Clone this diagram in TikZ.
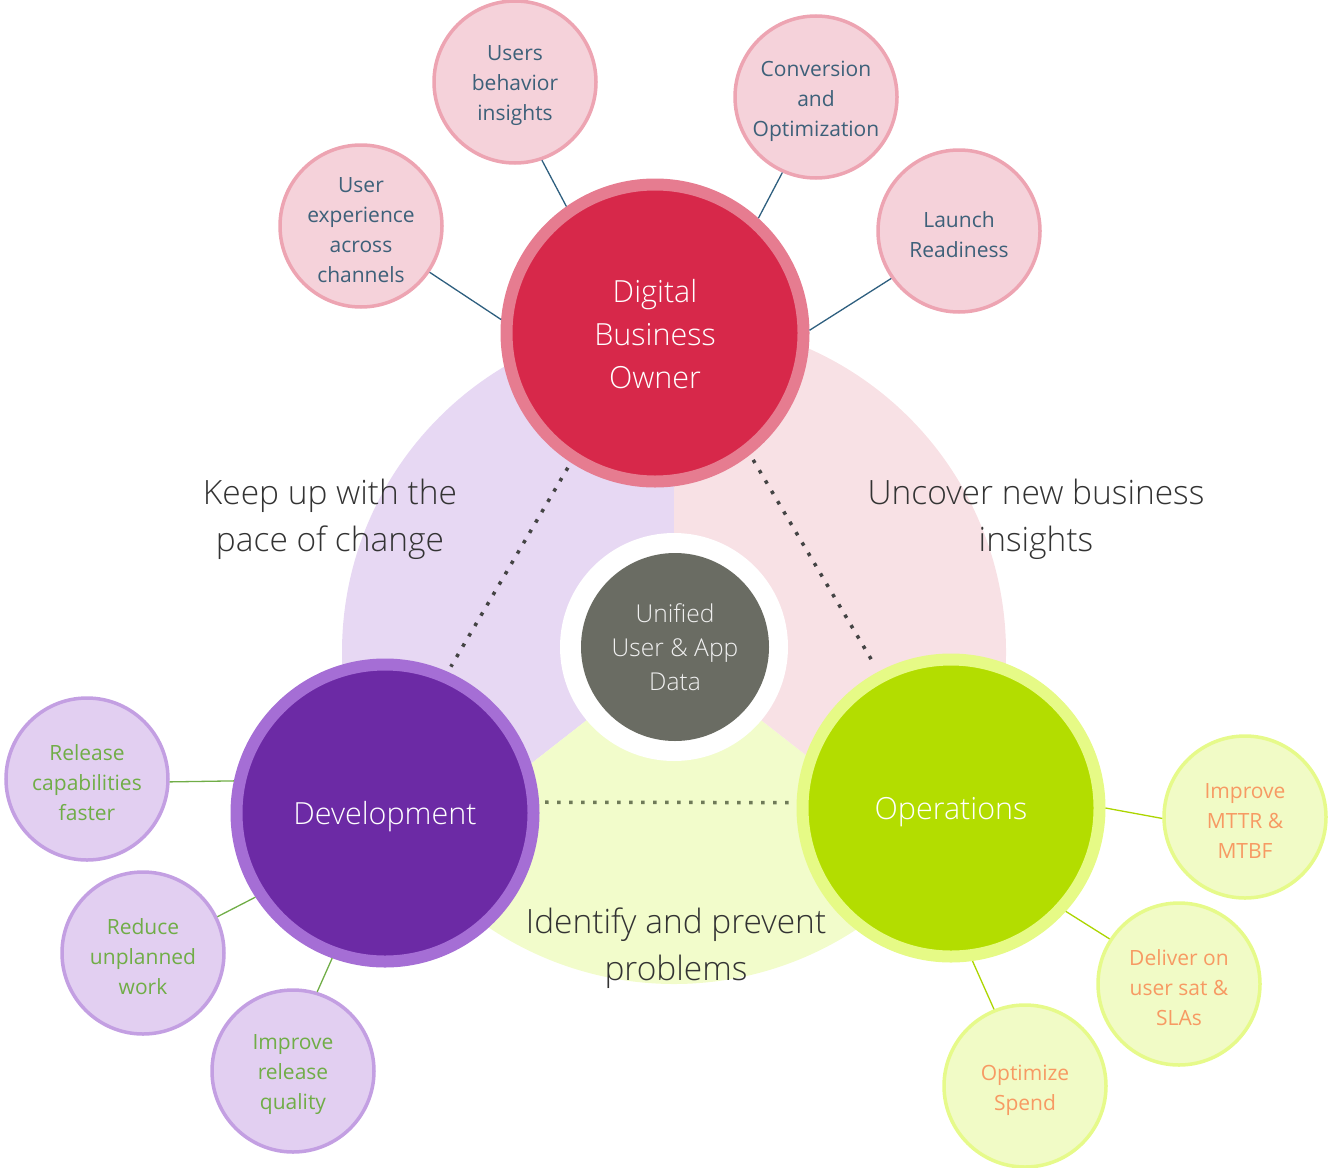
\documentclass[tikz,border=0pt]{standalone}
\usepackage{fontspec}
\setmainfont{Open Sans}
\newfontfamily\lightfont{Open Sans Light}
\definecolor{lavbg}{HTML}{E7D8F3}
\definecolor{pinkbg}{HTML}{F8E1E5}
\definecolor{yelbg}{HTML}{F2FCCB}
\definecolor{dbofill}{HTML}{D7284A}
\definecolor{dboring}{HTML}{E67C90}
\definecolor{devfill}{HTML}{6C2AA5}
\definecolor{devring}{HTML}{A56ED5}
\definecolor{opsfill}{HTML}{B3DD00}
\definecolor{opsring}{HTML}{E6FA86}
\definecolor{hubgrey}{HTML}{6A6C63}
\definecolor{pinksm}{HTML}{F5D2DA}
\definecolor{pinksmb}{HTML}{EDA4B2}
\definecolor{pinktxt}{HTML}{3D6079}
\definecolor{purpsm}{HTML}{E2CFF1}
\definecolor{purpsmb}{HTML}{C39FE2}
\definecolor{purptxt}{HTML}{70AD47}
\definecolor{limesm}{HTML}{F1FBC6}
\definecolor{limesmb}{HTML}{E6FA8A}
\definecolor{limetxt}{HTML}{F79A63}
\definecolor{dboline}{HTML}{2E5F7F}
\definecolor{devline}{HTML}{70AD47}
\definecolor{opsline}{HTML}{ACD500}
\definecolor{dotgrey}{HTML}{444444}
\definecolor{dotolive}{HTML}{6F7A58}
\definecolor{labeltxt}{HTML}{333333}
\begin{document}
\begin{tikzpicture}[x=1pt,y=-1pt,
  bignode/.style 2 args={circle, fill=#1, draw=#2, line width=12pt, minimum size=297pt,
    inner sep=0pt},
  bigtext/.style={yshift=-4pt, text=white, align=center, inner sep=0pt,
    font=\lightfont\fontsize{30.5}{43}\selectfont},
  smallnode/.style={circle, line width=3.5pt, minimum size=162pt, inner sep=0pt},
  smalltext/.style={yshift=-4pt, text=#1, align=center, inner sep=0pt,
    font=\fontsize{21}{30}\selectfont},
  pinknode/.style={smallnode, fill=pinksm, draw=pinksmb},
  purpnode/.style={smallnode, fill=purpsm, draw=purpsmb},
  limenode/.style={smallnode, fill=limesm, draw=limesmb},
  sectorlabel/.style={align=center, text=labeltxt, font=\lightfont\fontsize{33.5}{47}\selectfont},
  conn/.style={line width=1.3pt, draw=#1},
  dotline/.style={draw=#1, line width=3.5pt, dash pattern=on 3.5pt off 8.5pt,
    shorten <=6pt, shorten >=6pt}
]
\useasboundingbox (0,0) rectangle (1332,1167);

% background sectors
\coordinate (c) at (674,652);
\fill[lavbg] (c) -- ++(-90:332) arc[start angle=-90, end angle=-218, radius=332] -- cycle;
\fill[yelbg] (c) -- ++(-218:332) arc[start angle=-218, end angle=-322, radius=332] -- cycle;
\fill[pinkbg] (c) -- ++(-322:332) arc[start angle=-322, end angle=-450, radius=332] -- cycle;

% hub
\node[circle, fill=white, minimum size=228pt, inner sep=0pt] (hubring) at (674,647) {};
\node[circle, fill=hubgrey, minimum size=188pt, inner sep=0pt, text=white!94!black,
  align=center, font=\lightfont\fontsize{24.6}{34}\selectfont] (hub) at (675,647) {Unified\\User \& App\\Data};

% sector labels
\node[sectorlabel] (l1) at (330,519) {Keep up with the\\pace of change};
\node[sectorlabel] (l2) at (1036,519) {Uncover new business\\insights};
\node[sectorlabel] (l3) at (676,948) {Identify and prevent\\problems};

% main nodes
\node[bignode={dbofill}{dboring}, label={[bigtext, yshift=3pt]center:{Digital\\Business\\Owner}}] (dbo) at (655,333) {};
\node[bignode={devfill}{devring}, label={[bigtext]center:{Development}}] (dev) at (385,813) {};
\node[bignode={opsfill}{opsring}, label={[bigtext]center:{Operations}}] (ops) at (951,808) {};

% small nodes
\node[pinknode, label={[smalltext=pinktxt]center:{Users\\behavior\\insights}}] (ub) at (515,82) {};
\node[pinknode, label={[smalltext=pinktxt]center:{User\\experience\\across\\channels}}] (ux) at (361,226) {};
\node[pinknode, label={[smalltext=pinktxt]center:{Conversion\\and\\Optimization}}] (co) at (816,97) {};
\node[pinknode, label={[smalltext=pinktxt]center:{Launch\\Readiness}}] (lr) at (959,231) {};
\node[purpnode, label={[smalltext=purptxt]center:{Release\\capabilities\\faster}}] (rc) at (87,779) {};
\node[purpnode, label={[smalltext=purptxt]center:{Reduce\\unplanned\\work}}] (ru) at (143,953) {};
\node[purpnode, label={[smalltext=purptxt]center:{Improve\\release\\quality}}] (iq) at (293,1071) {};
\node[limenode, label={[smalltext=limetxt]center:{Improve\\MTTR \&\\MTBF}}] (mt) at (1245,817) {};
\node[limenode, label={[smalltext=limetxt]center:{Deliver on\\user sat \&\\SLAs}}] (ds) at (1179,984) {};
\node[limenode, label={[smalltext=limetxt]center:{Optimize\\Spend}}] (os) at (1025,1086) {};

% connectors
\draw[conn=dboline] (ux.-34) -- (dbo.175);
\draw[conn=dboline] (ub.-71) -- (dbo.125);
\draw[conn=dboline] (co.246) -- (dbo.48);
\draw[conn=dboline] (lr.215) -- (dbo.1);
\draw[conn=devline] (rc.-2) -- (dev.168);
\draw[conn=devline] (ru.26) -- (dev.213);
\draw[conn=devline] (iq.73) -- (dev.250);
\draw[conn=opsline] (ops.0) -- (mt.181);
\draw[conn=opsline] (ops.-42) -- (ds.147);
\draw[conn=opsline] (ops.-82) -- (os.112);

% dotted links
\draw[dotline=dotgrey] (dbo.237) -- (dev.66);
\draw[dotline=dotgrey] (dbo.-52) -- (ops.118);
\draw[dotline=dotolive] (dev.4) -- (ops.178);
\end{tikzpicture}
\end{document}
